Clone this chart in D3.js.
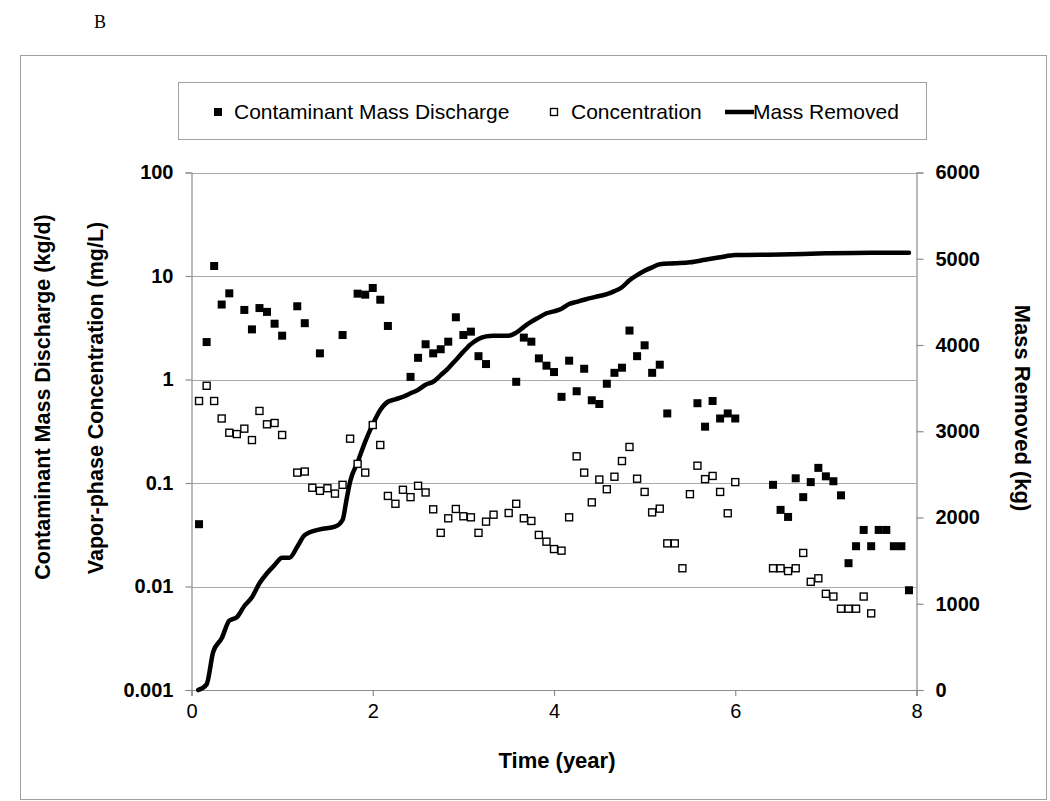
<!DOCTYPE html>
<html>
<head>
<meta charset="utf-8">
<script src="https://cdn.jsdelivr.net/npm/d3@7"></script>
<style>
  html, body { margin: 0; padding: 0; background: #fff; }
  svg { display: block; font-family: "Liberation Sans", Arial, sans-serif; }
</style>
</head>
<body>
<svg id="chart" width="1050" height="801"></svg>
<script>
// ---- Data ----
const dischargeTime = [0.083,0.167,0.25,0.333,0.417,0.583,0.667,0.75,0.833,0.917,1.0,1.167,1.25,1.417,1.667,1.833,1.917,2.0,2.083,2.167,2.417,2.5,2.583,2.667,2.75,2.833,2.917,3.0,3.083,3.167,3.25,3.583,3.667,3.75,3.833,3.917,4.0,4.083,4.167,4.25,4.333,4.417,4.5,4.583,4.667,4.75,4.833,4.917,5.0,5.083,5.167,5.25,5.583,5.667,5.75,5.833,5.917,6.0,6.417,6.5,6.583,6.667,6.75,6.833,6.917,7.0,7.083,7.167,7.25,7.333,7.417,7.5,7.583,7.667,7.75,7.833,7.917];
const dischargeValue = [0.040,2.3,12.5,5.3,6.8,4.7,3.05,4.9,4.5,3.46,2.65,5.1,3.5,1.79,2.69,6.75,6.6,7.66,5.9,3.29,1.06,1.62,2.19,1.79,1.96,2.32,3.99,2.69,2.90,1.68,1.41,0.95,2.54,2.32,1.60,1.36,1.18,0.68,1.52,0.77,1.27,0.63,0.58,0.91,1.16,1.30,2.97,1.68,2.14,1.16,1.39,0.47,0.59,0.35,0.62,0.42,0.47,0.42,0.096,0.055,0.047,0.111,0.073,0.102,0.140,0.116,0.104,0.076,0.0168,0.0245,0.0352,0.0245,0.0352,0.0352,0.0245,0.0245,0.0092];

const concTime = [0.083,0.167,0.25,0.333,0.417,0.5,0.583,0.667,0.75,0.833,0.917,1.0,1.167,1.25,1.333,1.417,1.5,1.583,1.667,1.75,1.833,1.917,2.0,2.083,2.167,2.25,2.333,2.417,2.5,2.583,2.667,2.75,2.833,2.917,3.0,3.083,3.167,3.25,3.333,3.5,3.583,3.667,3.75,3.833,3.917,4.0,4.083,4.167,4.25,4.333,4.417,4.5,4.583,4.667,4.75,4.833,4.917,5.0,5.083,5.167,5.25,5.333,5.417,5.5,5.583,5.667,5.75,5.833,5.917,6.0,6.417,6.5,6.583,6.667,6.75,6.833,6.917,7.0,7.083,7.167,7.25,7.333,7.417,7.5];
const concValue = [0.62,0.87,0.62,0.42,0.306,0.297,0.335,0.26,0.497,0.369,0.38,0.291,0.126,0.129,0.090,0.084,0.089,0.079,0.096,0.268,0.153,0.126,0.363,0.233,0.075,0.063,0.086,0.073,0.094,0.081,0.0557,0.033,0.0456,0.0561,0.0477,0.0466,0.033,0.0423,0.0494,0.0513,0.063,0.0456,0.043,0.0315,0.0271,0.023,0.0222,0.0466,0.181,0.126,0.065,0.108,0.087,0.115,0.163,0.223,0.110,0.082,0.052,0.0565,0.0261,0.0261,0.015,0.078,0.147,0.109,0.117,0.082,0.051,0.102,0.015,0.015,0.0141,0.015,0.0211,0.0111,0.012,0.0085,0.0080,0.0061,0.0061,0.0061,0.0080,0.0055];

const massTime = [0.075,0.167,0.24,0.333,0.417,0.5,0.583,0.667,0.75,0.833,0.917,1.0,1.083,1.167,1.25,1.417,1.583,1.667,1.71,1.75,1.833,1.917,2.0,2.083,2.167,2.25,2.333,2.417,2.5,2.583,2.667,2.75,2.833,2.917,3.0,3.083,3.167,3.25,3.333,3.5,3.583,3.667,3.75,3.833,3.917,4.0,4.083,4.167,4.25,4.333,4.5,4.583,4.667,4.75,4.833,4.917,5.0,5.083,5.167,5.333,5.5,5.667,5.833,6.0,6.5,7.0,7.5,7.917];
const massValue = [0,66,444,599,804,843,974,1075,1237,1353,1449,1534,1534,1661,1797,1863,1893,1971,2203,2415,2640,2880,3080,3246,3342,3370,3400,3440,3480,3540,3574,3650,3730,3826,3923,4010,4070,4100,4108,4108,4143,4210,4270,4320,4368,4390,4420,4475,4500,4525,4568,4590,4625,4670,4750,4810,4860,4900,4936,4947,4959,4988,5017,5043,5050,5063,5070,5070];

const xTicks = [0, 2, 4, 6, 8];
const yLeftTicks = [0.001, 0.01, 0.1, 1, 10, 100];
const yLeftLabels = ["0.001", "0.01", "0.1", "1", "10", "100"];
const yRightTicks = [0, 1000, 2000, 3000, 4000, 5000, 6000];
const legendLabels = ["Contaminant Mass Discharge", "Concentration", "Mass Removed"];

// ---- Layout ----
const svg = d3.select("#chart");
const plot = { left: 191.5, right: 916.5, top: 172.5, bottom: 690 };
const axisColor = "#8c8c8c";
const gridColor = "#a8a8a8";

const x = d3.scaleLinear().domain([0, 8]).range([plot.left, plot.right]);
const yL = d3.scaleLog().domain([0.001, 100]).range([plot.bottom, plot.top]);
const yR = d3.scaleLinear().domain([0, 6000]).range([plot.bottom, plot.top]);

// Outer frame
svg.append("rect").attr("x", 20.5).attr("y", 55.5).attr("width", 1026).attr("height", 744)
  .attr("fill", "none").attr("stroke", "#a0a0a0").attr("stroke-width", 1);

// "B" panel label
svg.append("text").attr("x", 94).attr("y", 28)
  .attr("font-family", "'Liberation Serif', 'Times New Roman', serif")
  .attr("font-size", 18).attr("fill", "#000").text("B");

// Gridlines
svg.append("g").selectAll("line").data(yLeftTicks.filter(d => d > 0.001)).join("line")
  .attr("x1", plot.left).attr("x2", plot.right)
  .attr("y1", d => Math.round(yL(d)) + 0.5).attr("y2", d => Math.round(yL(d)) + 0.5)
  .attr("stroke", gridColor).attr("stroke-width", 1.2);

// Left axis
const gL = svg.append("g").attr("transform", `translate(${plot.left},0)`)
  .call(d3.axisLeft(yL).tickValues(yLeftTicks).tickFormat((d, i) => yLeftLabels[i]).tickSize(6).tickPadding(12));
gL.select(".domain").attr("stroke", axisColor).attr("stroke-width", 1.2);
gL.selectAll(".tick line").attr("stroke", axisColor).attr("stroke-width", 1.2);
gL.selectAll(".tick text").attr("font-size", 20).attr("font-weight", "bold").attr("fill", "#000")
  .attr("font-family", "'Liberation Sans', Arial, sans-serif");

// Right axis
const gR = svg.append("g").attr("transform", `translate(${plot.right},0)`)
  .call(d3.axisRight(yR).tickValues(yRightTicks).tickFormat(d3.format("d")).tickSize(7).tickPadding(12));
gR.select(".domain").attr("stroke", axisColor).attr("stroke-width", 1.2);
gR.selectAll(".tick line").attr("stroke", axisColor).attr("stroke-width", 1.2);
gR.selectAll(".tick text").attr("font-size", 20).attr("font-weight", "bold").attr("fill", "#000")
  .attr("font-family", "'Liberation Sans', Arial, sans-serif");

// Bottom axis
const gB = svg.append("g").attr("transform", `translate(0,${plot.bottom})`)
  .call(d3.axisBottom(x).tickValues(xTicks).tickFormat(d3.format("d")).tickSize(6).tickPadding(8));
gB.select(".domain").attr("stroke", axisColor).attr("stroke-width", 1.2);
gB.selectAll(".tick line").attr("stroke", axisColor).attr("stroke-width", 1.2);
gB.selectAll(".tick text").attr("font-size", 20).attr("fill", "#000")
  .attr("font-family", "'Liberation Sans', Arial, sans-serif");

// Mass removed line
const line = d3.line().x(d => x(d[0])).y(d => yR(d[1])).curve(d3.curveMonotoneX);
svg.append("path").datum(massTime.map((t, i) => [t, massValue[i]]))
  .attr("d", line).attr("fill", "none").attr("stroke", "#000")
  .attr("stroke-width", 4.5).attr("stroke-linejoin", "round").attr("stroke-linecap", "round");

// Concentration (open squares)
const so = 7;
svg.append("g").selectAll("rect").data(concTime.map((t, i) => [t, concValue[i]])).join("rect")
  .attr("x", d => x(d[0]) - so / 2).attr("y", d => yL(d[1]) - so / 2)
  .attr("width", so).attr("height", so)
  .attr("fill", "#fff").attr("stroke", "#000").attr("stroke-width", 1.4);

// Discharge (filled squares)
const sf = 8;
svg.append("g").selectAll("rect").data(dischargeTime.map((t, i) => [t, dischargeValue[i]])).join("rect")
  .attr("x", d => x(d[0]) - sf / 2).attr("y", d => yL(d[1]) - sf / 2)
  .attr("width", sf).attr("height", sf).attr("fill", "#000");

// Axis titles
const bold = "'Liberation Sans', Arial, sans-serif";
svg.append("text").attr("transform", "translate(50,397) rotate(-90)")
  .attr("text-anchor", "middle").attr("font-family", bold).attr("font-weight", "bold")
  .attr("font-size", 21.5).attr("fill", "#000").text("Contaminant Mass Discharge (kg/d)");
svg.append("text").attr("transform", "translate(103,398) rotate(-90)")
  .attr("text-anchor", "middle").attr("font-family", bold).attr("font-weight", "bold")
  .attr("font-size", 21.5).attr("fill", "#000").text("Vapor-phase Concentration (mg/L)");
svg.append("text").attr("transform", "translate(1015,408) rotate(90)")
  .attr("text-anchor", "middle").attr("font-family", bold).attr("font-weight", "bold")
  .attr("font-size", 22).attr("fill", "#000").text("Mass Removed (kg)");
svg.append("text").attr("x", 557).attr("y", 768)
  .attr("text-anchor", "middle").attr("font-family", bold).attr("font-weight", "bold")
  .attr("font-size", 22).attr("fill", "#000").text("Time (year)");

// Legend
const lg = svg.append("g");
lg.append("rect").attr("x", 178.5).attr("y", 82.5).attr("width", 748).attr("height", 57)
  .attr("fill", "#fff").attr("stroke", "#a0a0a0").attr("stroke-width", 1);
const ly = 112;
lg.append("rect").attr("x", 214).attr("y", ly - 4).attr("width", 8).attr("height", 8).attr("fill", "#000");
lg.append("text").attr("x", 234).attr("y", ly).attr("dy", "0.35em").attr("font-size", 21)
  .attr("fill", "#000").text(legendLabels[0]);
lg.append("rect").attr("x", 550.5).attr("y", ly - 3.5).attr("width", 7).attr("height", 7)
  .attr("fill", "#fff").attr("stroke", "#000").attr("stroke-width", 1.3);
lg.append("text").attr("x", 571).attr("y", ly).attr("dy", "0.35em").attr("font-size", 21)
  .attr("fill", "#000").text(legendLabels[1]);
lg.append("line").attr("x1", 725).attr("x2", 754).attr("y1", ly).attr("y2", ly)
  .attr("stroke", "#000").attr("stroke-width", 4.5);
lg.append("text").attr("x", 753).attr("y", ly).attr("dy", "0.35em").attr("font-size", 21)
  .attr("fill", "#000").text(legendLabels[2]);
</script>
</body>
</html>
